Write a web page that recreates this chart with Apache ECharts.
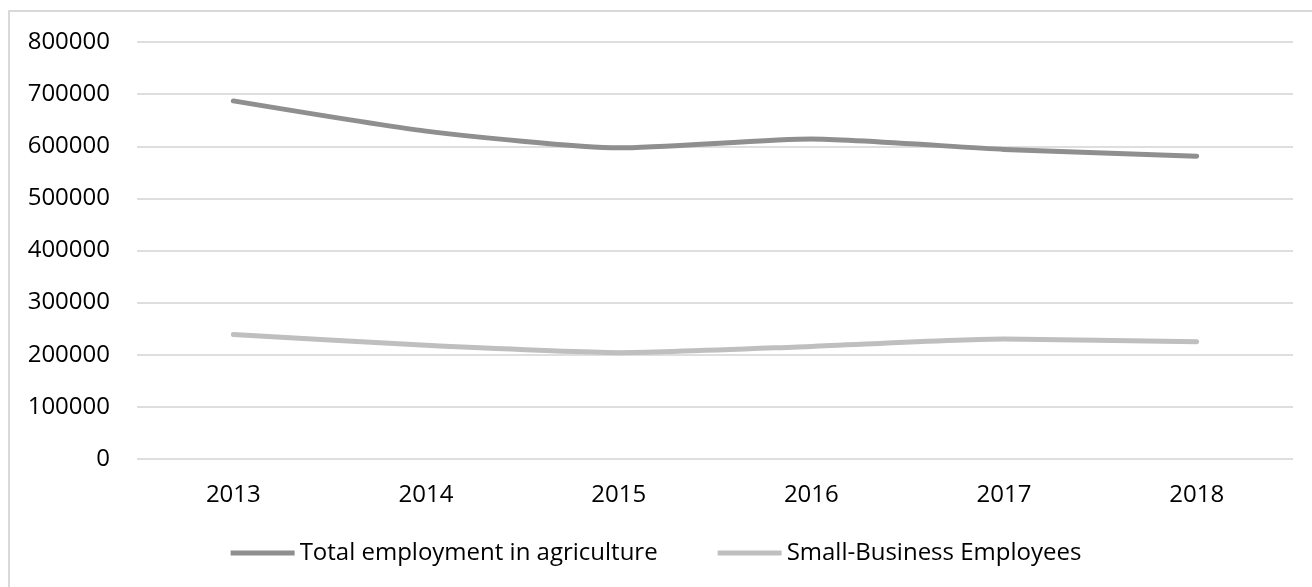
<!DOCTYPE html>
<html>
<head>
<meta charset="utf-8">
<script src="https://cdn.jsdelivr.net/npm/echarts@6/dist/echarts.min.js"></script>
<style>
html,body{margin:0;padding:0;background:#fff;}
#chart{width:1312px;height:587px;}
</style>
</head>
<body>
<div id="chart"></div>
<script>
var years = ['2013','2014','2015','2016','2017','2018'];
var totalAgriculture = [687000, 629000, 597000, 614000, 594000, 581000];
var smallBusiness = [239000, 218000, 204000, 216000, 230000, 225000];
var seriesNames = ['Total employment in agriculture', 'Small-Business Employees'];
var seriesColors = ['#8f8f8f', '#bfbfbf'];

var FONT = 'Open Sans';
var chart = echarts.init(document.getElementById('chart'), null, {renderer: 'canvas'});
chart.setOption({
  animation: false,
  backgroundColor: '#ffffff',
  graphic: [{
    type: 'rect',
    shape: {x: 9, y: 11, width: 1400, height: 700},
    style: {fill: 'none', stroke: '#d9d9d9', lineWidth: 2},
    silent: true,
    z: -1
  }],
  grid: {left: 137, right: 19, top: 42, bottom: 128, containLabel: false},
  legend: {
    data: seriesNames.map(function (n) { return {name: n, icon: 'rect'}; }),
    bottom: 17,
    left: 'center',
    itemWidth: 64,
    itemHeight: 5,
    itemGap: 60,
    textStyle: {fontFamily: FONT, fontSize: 24, color: '#000000'}
  },
  xAxis: {
    type: 'category',
    data: years,
    boundaryGap: true,
    axisLine: {show: false},
    axisTick: {show: false},
    axisLabel: {fontFamily: FONT, fontSize: 24, color: '#000000', margin: 24}
  },
  yAxis: {
    type: 'value',
    min: 0,
    max: 800000,
    interval: 100000,
    axisLine: {show: false},
    axisTick: {show: false},
    axisLabel: {fontFamily: FONT, fontSize: 24, color: '#000000', margin: 27,
      formatter: function (v) { return String(v); }},
    splitLine: {lineStyle: {color: '#dedede', width: 2}}
  },
  series: [{
    name: seriesNames[0],
    type: 'line',
    data: totalAgriculture,
    smooth: 0.2,
    symbol: 'none',
    lineStyle: {color: seriesColors[0], width: 5, cap: 'round', join: 'round'},
    itemStyle: {color: seriesColors[0]}
  }, {
    name: seriesNames[1],
    type: 'line',
    data: smallBusiness,
    smooth: 0.2,
    symbol: 'none',
    lineStyle: {color: seriesColors[1], width: 5, cap: 'round', join: 'round'},
    itemStyle: {color: seriesColors[1]}
  }]
});
</script>
</body>
</html>
